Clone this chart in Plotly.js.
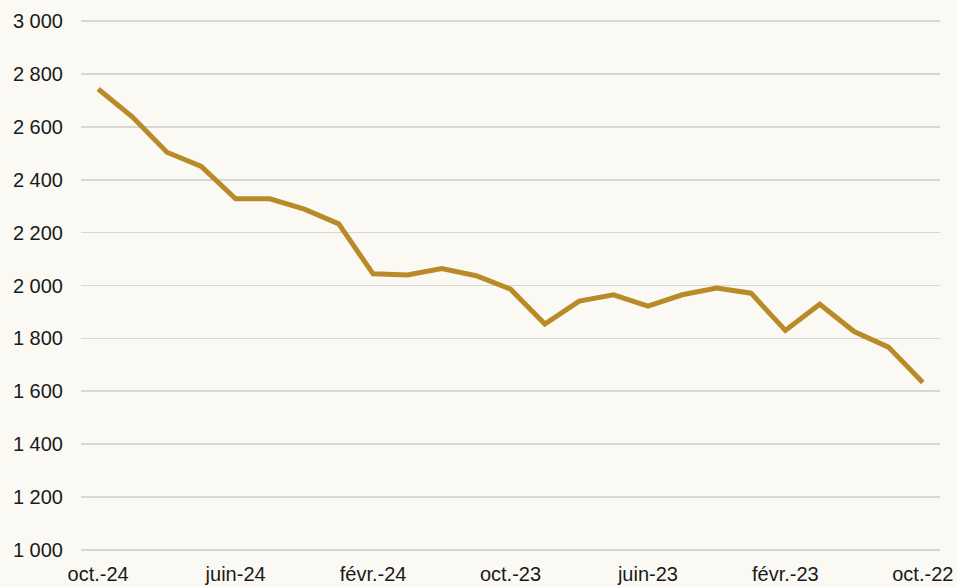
<!DOCTYPE html>
<html>
<head>
<meta charset="utf-8">
<script src="https://cdn.plot.ly/plotly-3.0.1.min.js"></script>
<style>
html,body{margin:0;padding:0;background:#fbf9f3;}
#chart{width:957px;height:587px;}
</style>
</head>
<body>
<div id="chart"></div>
<script>
var months = ["oct.-24","sept.-24","août-24","juil.-24","juin-24","mai-24","avr.-24","mars-24","févr.-24","janv.-24",
  "déc.-23","nov.-23","oct.-23","sept.-23","août-23","juil.-23","juin-23","mai-23","avr.-23","mars-23",
  "févr.-23","janv.-23","déc.-22","nov.-22","oct.-22"];
var values = [2743,2637,2504,2450,2328,2328,2289,2233,2044,2040,
  2064,2037,1986,1854,1941,1965,1922,1965,1990,1971,
  1830,1929,1826,1767,1633];
var xTicks = ["oct.-24","juin-24","févr.-24","oct.-23","juin-23","févr.-23","oct.-22"];
var yTicks = [1000,1200,1400,1600,1800,2000,2200,2400,2600,2800,3000];

var trace = {
  x: months,
  y: values,
  type: "scatter",
  mode: "lines",
  line: {color: "#b98b28", width: 5},
  hoverinfo: "x+y"
};

var layout = {
  width: 957, height: 587,
  paper_bgcolor: "#fbf9f3",
  plot_bgcolor: "#fbf9f3",
  margin: {l: 81, r: 17, t: 20, b: 36},
  separators: ", ",
  showlegend: false,
  font: {family: "Liberation Sans, Arial, sans-serif", size: 20, color: "#1a1a1a"},
  xaxis: {
    type: "category",
    categoryorder: "array",
    categoryarray: months,
    range: [-0.5, 24.5],
    tickmode: "array",
    tickvals: xTicks,
    ticktext: xTicks,
    showgrid: false,
    zeroline: false,
    showline: false,
    ticks: "",
    ticklabelstandoff: 9,
    tickfont: {size: 20, color: "#1a1a1a"}
  },
  yaxis: {
    range: [996, 3004],
    tickmode: "array",
    tickvals: yTicks,
    separatethousands: true,
    tickformat: ",d",
    showgrid: true,
    gridcolor: "#d9d7d2",
    gridwidth: 1.6,
    zeroline: false,
    showline: false,
    ticks: "",
    ticklabelstandoff: 17,
    tickfont: {size: 20, color: "#1a1a1a"}
  }
};

Plotly.newPlot("chart", [trace], layout, {displayModeBar: false, staticPlot: true});
</script>
</body>
</html>
